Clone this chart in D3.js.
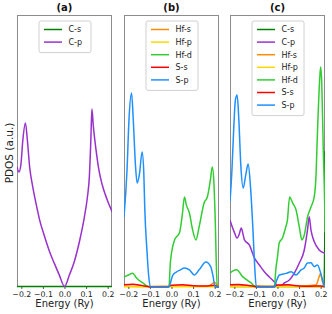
<!DOCTYPE html>
<html>
<head>
<meta charset="utf-8">
<script src="https://cdn.jsdelivr.net/npm/d3@7"></script>
<style>
  body { margin: 0; background: #fff; }
  text { font-family: "DejaVu Sans", sans-serif; }
</style>
</head>
<body>
<div id="chart"></div>
<script>
// PDOS data, [energy (Ry), dos (a.u.)]
let titles = ['(a)', '(b)', '(c)']
let xTicks = [-0.2, -0.1, 0.0, 0.1, 0.2]
let colors = {
    'C-s': 'green', 'C-p': 'darkorchid', 'Hf-s': 'darkorange', 'Hf-p': 'gold',
    'Hf-d': 'limegreen', 'S-s': 'red', 'S-p': 'dodgerblue'
}

// panel (a)
let aCs = [[-0.22, 0.02], [0, 0.02], [0.22, 0.02]]
let aCp = [[-0.22, 4.41], [-0.211, 4.23], [-0.202, 4.5], [-0.193, 5.4], [-0.181, 6.03], [-0.172, 5.4],
    [-0.161, 4.38], [-0.147, 3.68], [-0.13, 3.0], [-0.115, 2.46], [-0.092, 1.85], [-0.069, 1.3],
    [-0.046, 0.85], [-0.023, 0.42], [0, 0.02],
    [0.023, 0.45], [0.046, 0.95], [0.07, 1.7], [0.092, 2.57], [0.106, 3.3], [0.115, 4.04], [0.122, 5.4],
    [0.127, 6.54], [0.133, 5.96], [0.146, 5.04], [0.161, 4.23], [0.175, 3.75], [0.198, 3.2], [0.221, 2.76]]

// panel (b)
let bHfs = [[-0.22, 0.03], [-0.1, 0.02], [0, 0.03], [0.17, 0.03], [0.185, 0.1], [0.2, 0.17],
    [0.208, 0.12], [0.215, 0.02], [0.22, 0]]
let bHfp = [[-0.22, 0.01], [0.22, 0.01]]
let bHfd = [[-0.22, 0.37], [-0.199, 0.44], [-0.18, 0.51], [-0.162, 0.33], [-0.133, 0.15], [-0.101, 0],
    [-0.012, 0], [-0.005, 0.92], [0, 1.25], [0.014, 1.73], [0.037, 1.99], [0.05, 2.65], [0.06, 3.31],
    [0.069, 3.01], [0.083, 2.72], [0.096, 2.17], [0.113, 1.73], [0.128, 2.21], [0.151, 3.09],
    [0.166, 3.31], [0.18, 3.93], [0.189, 4.41], [0.197, 3.75], [0.202, 2.65], [0.207, 1.0], [0.212, 0], [0.22, 0]]
let bSs = [[-0.22, 0.08], [-0.18, 0.1], [-0.14, 0.06], [-0.1, 0.01], [-0.02, 0], [0, 0.06],
    [0.05, 0.08], [0.1, 0.05], [0.15, 0.04], [0.2, 0.06], [0.215, 0], [0.22, 0]]
let bSp = [[-0.22, 2.57], [-0.206, 4.3], [-0.197, 6.14], [-0.185, 7.13], [-0.177, 6.14], [-0.167, 4.49],
    [-0.159, 3.82], [-0.149, 4.12], [-0.136, 4.96], [-0.128, 4.12], [-0.124, 2.94], [-0.113, 1.25],
    [-0.106, 0.44], [-0.098, 0], [-0.012, 0], [-0.005, 0.15], [0.006, 0.44], [0.022, 0.55], [0.041, 0.63],
    [0.06, 0.7], [0.083, 0.63], [0.106, 0.44], [0.128, 0.63], [0.159, 0.92], [0.182, 0.74],
    [0.193, 0.37], [0.202, 0], [0.22, 0]]

// panel (c)
let cCs = [[-0.22, 0.02], [0.215, 0.02], [0.2196, 2.4], [0.22, 5.0]]
let cCp = [[-0.22, 2.46], [-0.211, 2.24], [-0.199, 1.99], [-0.187, 1.8], [-0.177, 1.95], [-0.168, 2.17],
    [-0.161, 1.99], [-0.153, 1.73], [-0.13, 1.54], [-0.107, 1.07], [-0.084, 0.81], [-0.061, 0.56],
    [-0.038, 0.37], [-0.015, 0.19], [0, 0.04], [0.014, 0.04], [0.032, 0.15], [0.055, 0.26],
    [0.078, 0.51], [0.101, 0.88], [0.124, 1.36], [0.139, 2.1], [0.147, 2.58], [0.155, 2.1],
    [0.17, 1.67], [0.193, 1.36], [0.216, 1.25], [0.22, 1.24]]
let cHfs = [[-0.22, 0.03], [0.1, 0.03], [0.178, 0.07], [0.193, 0.38], [0.2, 0.51], [0.205, 0.3],
    [0.215, 0.05], [0.22, 0.02]]
let cHfp = [[-0.22, 0.01], [0.22, 0.01]]
let cHfd = [[-0.22, 0.51], [-0.206, 0.59], [-0.191, 0.63], [-0.181, 0.59], [-0.168, 0.44], [-0.147, 0.29],
    [-0.122, 0.15], [-0.101, 0], [-0.015, 0], [-0.007, 0.7], [0, 1.11], [0.008, 1.62], [0.023, 1.8],
    [0.037, 2.17], [0.046, 2.46], [0.056, 3.31], [0.07, 3.09], [0.086, 2.83], [0.101, 2.21],
    [0.113, 1.73], [0.124, 1.91], [0.139, 2.57], [0.155, 2.94], [0.17, 3.31], [0.178, 4.04],
    [0.185, 5.66], [0.196, 7.72], [0.2, 8.09], [0.205, 7.5], [0.212, 5.04], [0.2195, 2.4], [0.22, 2.0]]
let cSs = [[-0.22, 0.08], [-0.18, 0.09], [-0.14, 0.06], [-0.1, 0.02], [-0.02, 0.01], [0, 0.07],
    [0.05, 0.08], [0.1, 0.04], [0.15, 0.03], [0.2, 0.04], [0.22, 0.01]]
let cSp = [[-0.22, 3.13], [-0.211, 4.3], [-0.202, 5.96], [-0.195, 6.88], [-0.187, 7.06], [-0.179, 6.14],
    [-0.17, 4.49], [-0.159, 3.64], [-0.147, 4.12], [-0.136, 4.52], [-0.125, 3.68], [-0.113, 1.99],
    [-0.106, 0.81], [-0.098, 0], [-0.014, 0], [-0.005, 0.22], [0.009, 0.44], [0.04, 0.5], [0.063, 0.56],
    [0.086, 0.44], [0.109, 0.63], [0.124, 0.7], [0.139, 0.88], [0.155, 0.89], [0.17, 0.75],
    [0.185, 0.81], [0.2, 0.51], [0.212, 0.15], [0.216, 0.04], [0.22, 0]]

let panels = [
    { title: titles[0], series: { 'C-s': aCs, 'C-p': aCp } },
    { title: titles[1], series: { 'Hf-s': bHfs, 'Hf-p': bHfp, 'Hf-d': bHfd, 'S-s': bSs, 'S-p': bSp } },
    { title: titles[2], series: { 'C-s': cCs, 'C-p': cCp, 'Hf-s': cHfs, 'Hf-p': cHfp, 'Hf-d': cHfd, 'S-s': cSs, 'S-p': cSp } }
]

let svg = d3.select('#chart')
    .append('svg')
    .attr('width', 332)
    .attr('height', 314)

let lefts = [17, 124, 230],
    pw = 95,
    plotTop = 15,
    plotBottom = 287

let yScale = d3.scaleLinear()
    .domain([0, 10])
    .range([plotBottom, plotTop])

svg.append('text')
    .attr('transform', `translate(9,153) rotate(-90)`)
    .attr('text-anchor', 'middle')
    .attr('dy', '0.35em')
    .style('font-size', '10.5px')
    .attr('fill', '#222')
    .text('PDOS (a.u.)')

panels.forEach((p, k) => {
    let x0 = lefts[k]
    let xScale = d3.scaleLinear()
        .domain([-0.22, 0.22])
        .range([x0, x0 + pw])

    svg.append('clipPath')
        .attr('id', 'clip' + k)
        .append('rect')
        .attr('x', x0)
        .attr('y', plotTop)
        .attr('width', pw)
        .attr('height', plotBottom - plotTop + 1)

    svg.append('rect')
        .attr('x', x0 + 0.5)
        .attr('y', plotTop + 0.5)
        .attr('width', pw - 1)
        .attr('height', plotBottom - plotTop - 1)
        .attr('fill', 'none')
        .attr('stroke', '#8c8c8c')
        .attr('stroke-width', 1)

    let line = d3.line()
        .x(d => xScale(d[0]))
        .y(d => yScale(d[1]))
        .curve(d3.curveMonotoneX)

    let names = Object.keys(p.series)
    svg.append('g')
        .attr('clip-path', `url(#clip${k})`)
        .selectAll('path')
        .data(names)
        .enter()
        .append('path')
        .attr('d', n => line(p.series[n]))
        .attr('fill', 'none')
        .attr('stroke', n => colors[n])
        .attr('stroke-width', 1.5)
        .attr('stroke-linejoin', 'round')

    let xAxis = d3.axisBottom(xScale)
        .tickValues(xTicks)
        .tickFormat(d3.format('.1f'))
        .tickSize(2)
        .tickPadding(2)
    let ax = svg.append('g')
        .attr('transform', `translate(0,${plotBottom})`)
        .call(xAxis)
    ax.select('.domain').remove()
    ax.selectAll('line').attr('stroke', '#555')
    ax.selectAll('text')
        .style('font-size', '7.8px')
        .style('font-family', '"DejaVu Sans", sans-serif')
        .attr('fill', '#222')

    svg.append('text')
        .attr('x', x0 + pw / 2)
        .attr('y', 307)
        .attr('text-anchor', 'middle')
        .style('font-size', '10px')
        .attr('fill', '#222')
        .text('Energy (Ry)')

    svg.append('text')
        .attr('x', x0 + pw / 2)
        .attr('y', 11)
        .attr('text-anchor', 'middle')
        .style('font-size', '10px')
        .style('font-weight', 'bold')
        .attr('fill', '#111')
        .text(p.title)

    // legend, upper center
    let step = 12.6,
        boxW = 52,
        bx = x0 + pw / 2 - boxW / 2 + 0.5,
        by = 21
    let lg = svg.append('g')
    lg.append('rect')
        .attr('x', bx)
        .attr('y', by)
        .attr('width', boxW)
        .attr('height', 8.5 + step * (names.length - 1) + 10.5)
        .attr('rx', 2)
        .attr('fill', 'white')
        .attr('fill-opacity', 0.85)
        .attr('stroke', '#d0d0d0')
        .attr('stroke-width', 1)
    names.forEach((n, i) => {
        let yy = by + 8.5 + i * step
        lg.append('line')
            .attr('x1', bx + 5)
            .attr('x2', bx + 23)
            .attr('y1', yy)
            .attr('y2', yy)
            .attr('stroke', colors[n])
            .attr('stroke-width', 1.5)
        lg.append('text')
            .attr('x', bx + 29.5)
            .attr('y', yy)
            .attr('dy', '0.35em')
            .style('font-size', '8px')
            .attr('fill', '#222')
            .text(n)
    })
})
</script>
</body>
</html>
